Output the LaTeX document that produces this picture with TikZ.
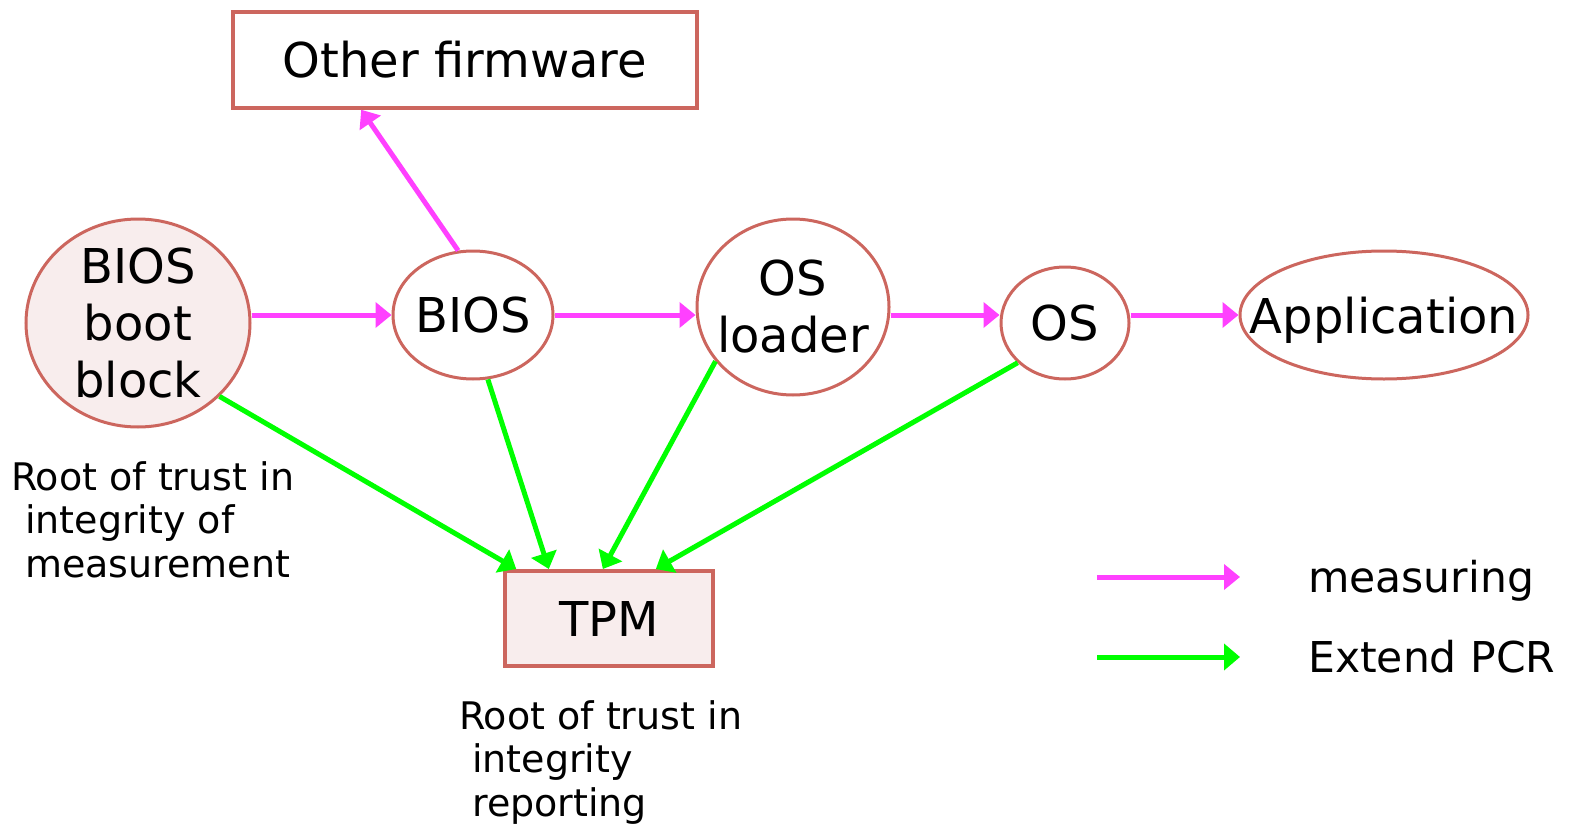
\documentclass[tikz,border=0pt]{standalone}
\usepackage{fontspec}
\setmainfont{DejaVu Sans}
\usetikzlibrary{arrows.meta,shapes.geometric,calc}
\definecolor{edgered}{RGB}{204,102,94}
\definecolor{blush}{RGB}{248,237,237}
\definecolor{measmag}{RGB}{255,64,255}
\definecolor{extgreen}{RGB}{0,255,0}
\begin{document}
\begin{tikzpicture}[x=1pt,y=-1pt,
  stage/.style={ellipse, draw=edgered, line width=3pt, inner sep=0pt, fill=white},
  box/.style={rectangle, draw=edgered, line width=3.5pt, inner sep=0pt},
  big/.style={font=\fontsize{48}{57}\selectfont, align=center, inner sep=0pt},
  small/.style={font=\fontsize{38}{43.5}\selectfont, align=left, inner sep=0pt},
  legtext/.style={font=\fontsize{42.5}{48}\selectfont, inner sep=0pt},
  meas/.style={draw=measmag, line width=5pt, -{Triangle[length=16pt,width=25pt]}},
  ext/.style={draw=extgreen, line width=5pt, -{Triangle[length=16pt,width=26pt]}},
]
\useasboundingbox (0,0) rectangle (1570,824);

% stages of the boot chain
\node[box, minimum width=464pt, minimum height=96pt, big] (oth) at (465,60) {Other firmware};
\node[stage, fill=blush, minimum width=224pt, minimum height=208pt,
      label={[big]center:{BIOS\\boot\\block}}] (bb) at (138,323) {};
\node[stage, minimum width=160pt, minimum height=128pt,
      label={[big]center:BIOS}] (bios) at (473,315) {};
\node[stage, minimum width=192pt, minimum height=176pt,
      label={[big]center:{OS\\loader}}] (osl) at (793,307) {};
\node[stage, minimum width=128pt, minimum height=112pt,
      label={[big]center:OS}] (os) at (1065,323) {};
\node[stage, minimum width=288pt, minimum height=128pt,
      label={[big, yshift=-5pt]center:Application}] (app) at (1384,315) {};
\node[box, fill=blush, line width=4pt, minimum width=208pt, minimum height=95pt, big] (tpm) at (609,618.5) {TPM};

% captions
\node[small, anchor=north west] (rtm) at (11,461)
  {Root of trust in\\\hspace*{14pt}integrity of\\\hspace*{14pt}measurement};
\node[small, anchor=north west] (rtr) at (459,700)
  {Root of trust in\\\hspace*{13pt}integrity\\\hspace*{13pt}reporting};

% measuring chain
\coordinate (row) at (0,315);
\draw[meas] (bb.east |- row) -- (bios.west);
\draw[meas] (bios.east) -- (osl.west |- row);
\draw[meas] (osl.east |- row) -- (os.west |- row);
\draw[meas] (os.east |- row) -- (app.west);
\draw[meas] (bios.103) -- ($(oth.south west)!0.278!(oth.south east)$);

% extend PCR into the TPM
\draw[ext] (bb.-42) -- ($(tpm.north west)!0.0625!(tpm.north east)$);
\draw[ext] (bios.-77) -- ($(tpm.north west)!0.216!(tpm.north east)$);
\draw[ext] (osl.215) -- ($(tpm.north west)!0.471!(tpm.north east)$);
\draw[ext] (os.220) -- ($(tpm.north west)!0.721!(tpm.north east)$);

% legend
\coordinate (m1) at (1097,577);
\coordinate (m2) at (1240,577);
\coordinate (g1) at (1097,657);
\coordinate (g2) at (1240,657);
\draw[meas] (m1) -- (m2);
\draw[ext] (g1) -- (g2);
\node[legtext, anchor=base west] (mtxt) at (1308,592) {measuring};
\node[legtext, anchor=base west] (gtxt) at (1308,672) {Extend PCR};
\end{tikzpicture}
\end{document}
